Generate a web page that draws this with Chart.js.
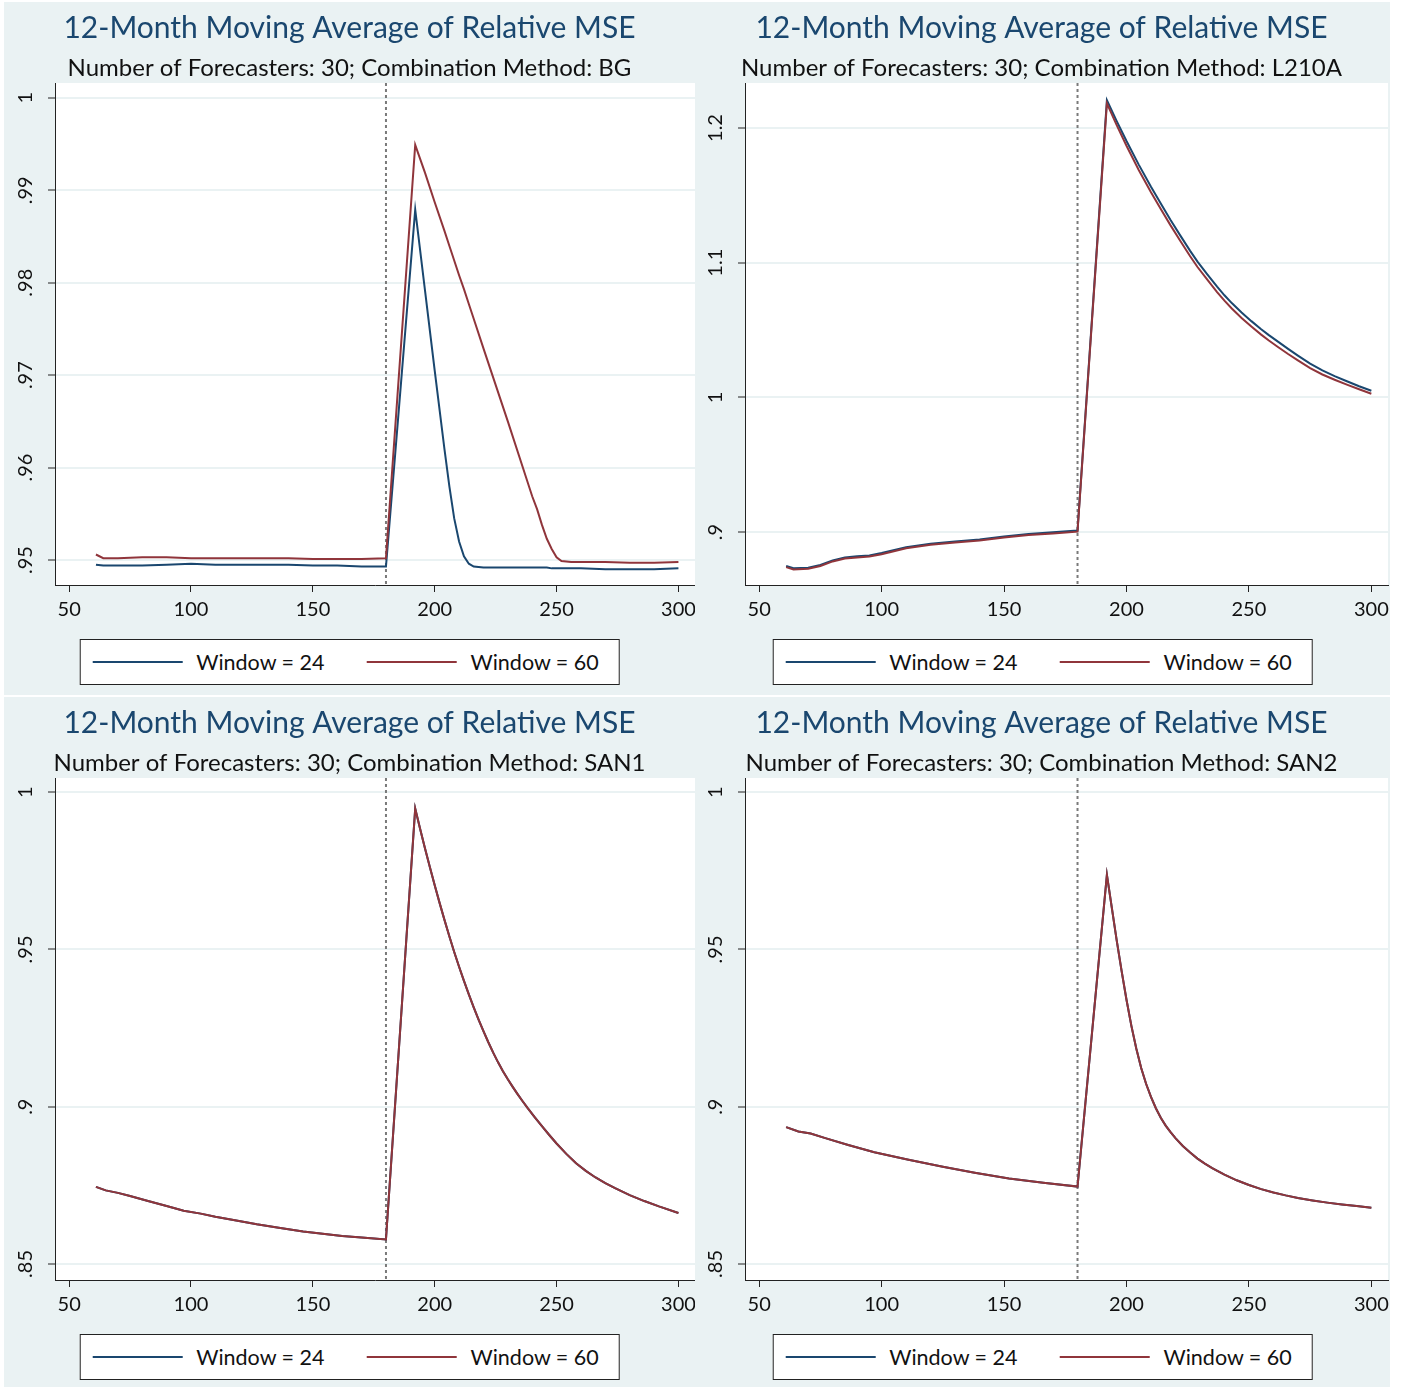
<!DOCTYPE html>
<html>
<head>
<meta charset="utf-8">
<script src="https://cdn.jsdelivr.net/npm/chart.js@4.4.0/dist/chart.umd.min.js"></script>
<style>
body { margin: 0; background: #fff; width: 1404px; height: 1387px; position: relative; font-family: Lato, sans-serif; overflow: hidden; }
.panel { position: absolute; background: #eaf2f3; }
.panel canvas { position: absolute; left: 0; top: 0; }
.legend { position: absolute; top: 637px; left: 50%; transform: translateX(-50%); height: 46px; box-sizing: border-box;
  background: #fff; border: 1px solid #222; display: flex; align-items: center; padding: 0 20px 0 12px;
  font-size: 21.5px; color: #111; white-space: nowrap; }
.legend .item { display: flex; align-items: center; }
.legend .item + .item { margin-left: 42px; }
.legend .swatch { width: 90px; height: 2px; margin-right: 14px; }
</style>
</head>
<body>
<div class="panel" id="p1" style="left:4px;top:2px;width:691px;height:693px;"><canvas id="c1" width="691" height="625"></canvas></div>
<div class="panel" id="p2" style="left:695px;top:2px;width:695px;height:693px;"><canvas id="c2" width="695" height="625"></canvas></div>
<div class="panel" id="p3" style="left:4px;top:697px;width:691px;height:690px;"><canvas id="c3" width="691" height="625"></canvas></div>
<div class="panel" id="p4" style="left:695px;top:697px;width:695px;height:690px;"><canvas id="c4" width="695" height="625"></canvas></div>
<script>
// break month (dotted line)
var breakPoint = 180;
var xTickValues = [50, 100, 150, 200, 250, 300];

// BG
var bgX = [61,64,70,80,90,100,110,120,130,140,150,160,170,180,192,196,200,204,206,208,210,212,214,216,220,230,240,242,244,246,248,250,252,256,260,270,280,290,300];
var bgW24 = [.9495,.9494,.9494,.9494,.9495,.9496,.9495,.9495,.9495,.9495,.9494,.9494,.9493,.9493,.9879,.9792,.9705,.9620,.9580,.9545,.9520,.9504,.9496,.9493,.9492,.9492,.9492,.9492,.9492,.9492,.9491,.9491,.9491,.9491,.9491,.9490,.9490,.9490,.9491];
var bgW60 = [.9506,.9502,.9502,.9503,.9503,.9502,.9502,.9502,.9502,.9502,.9501,.9501,.9501,.9502,.9949,.9919,.9887,.9856,.9840,.9824,.9808,.9793,.9777,.9761,.9729,.9650,.9569,.9555,.9538,.9523,.9512,.9503,.9499,.9498,.9498,.9498,.9497,.9497,.9498];

// L210A
var l210X = [61,64,70,75,80,85,90,95,100,110,120,130,140,150,160,170,180,
  192,196,200,205,210,214,218,222,226,229,233,237,240,243,247,251,255,258,262,266,270,275,280,285,290,295,300];
var l210W24 = [.8748,.8731,.8736,.8756,.8790,.8811,.8820,.8826,.8844,.8888,.8913,.8930,.8945,.8968,.8986,.8998,.9011,
  1.2207,1.2051,1.1903,1.1728,1.1563,1.1439,1.1317,1.1201,1.1088,1.1008,1.0914,1.0822,1.0758,1.0700,1.0630,1.0566,1.0506,1.0464,1.0412,1.0360,1.0310,1.0250,1.0200,1.0158,1.0120,1.0083,1.0049];
var l210W60 = [.8740,.8723,.8728,.8748,.8782,.8803,.8812,.8818,.8836,.8880,.8905,.8922,.8937,.8960,.8978,.8990,.9003,
  1.2183,1.2021,1.1868,1.1688,1.1523,1.1399,1.1277,1.1161,1.1048,1.0968,1.0874,1.0782,1.0718,1.0660,1.0590,1.0526,1.0466,1.0424,1.0372,1.0322,1.0275,1.0218,1.0170,1.0131,1.0095,1.0060,1.0027];

// SAN1
var san1X = [61,65,70,75,82,90,97,104,110,118,127,136,146,154,162,170,180,
  192,194,196,198,200,202,204,206,208,210,212,214,216,218,220,222,224,226,228,230,232,234,236,238,241,244,247,250,254,258,262,266,270,274,280,286,292,300];
var san1W24 = [.8745,.8734,.8726,.8716,.8701,.8684,.8669,.8660,.8650,.8639,.8626,.8615,.8603,.8596,.8589,.8584,.8578,
  .9948,.9884,.9822,.9762,.9704,.9648,.9594,.9542,.9492,.9445,.9400,.9357,.9316,.9277,.9240,.9205,.9172,.9141,.9113,.9087,.9063,.9040,.9018,.8997,.8967,.8938,.8910,.8883,.8850,.8820,.8796,.8775,.8757,.8741,.8719,.8700,.8683,.8662];
var san1W60 = [.8745,.8734,.8726,.8716,.8701,.8684,.8669,.8660,.8650,.8639,.8626,.8615,.8603,.8596,.8589,.8584,.8578,
  .9948,.9884,.9822,.9762,.9704,.9648,.9594,.9542,.9492,.9445,.9400,.9357,.9316,.9277,.9240,.9205,.9172,.9141,.9113,.9087,.9063,.9040,.9018,.8997,.8967,.8938,.8910,.8883,.8850,.8820,.8796,.8775,.8757,.8741,.8719,.8700,.8683,.8662];

// SAN2
var san2X = [61,66,71,77,86,97,111,125,138,152,166,180,
  192,194,196,198,200,202,204,206,208,210,212,214,216,218,220,223,226,229,232,235,240,245,250,255,260,265,270,276,282,288,294,300];
var san2W24 = [.8935,.8921,.8915,.8900,.8879,.8855,.8831,.8809,.8790,.8772,.8758,.8746,
  .9737,.9633,.9529,.9432,.9340,.9257,.9185,.9123,.9073,.9031,.8995,.8965,.8940,.8919,.8900,.8875,.8854,.8835,.8819,.8805,.8784,.8766,.8751,.8738,.8727,.8718,.8710,.8702,.8695,.8689,.8684,.8679];
var san2W60 = [.8935,.8921,.8915,.8900,.8879,.8855,.8831,.8809,.8790,.8772,.8758,.8746,
  .9737,.9633,.9529,.9432,.9340,.9257,.9185,.9123,.9073,.9031,.8995,.8965,.8940,.8919,.8900,.8875,.8854,.8835,.8819,.8805,.8784,.8766,.8751,.8738,.8727,.8718,.8710,.8702,.8695,.8689,.8684,.8679];

var seriesNames = ['Window = 24', 'Window = 60'];
var seriesColors = ['#1a476f', '#90353b'];

var panels = [
  { id: 'c1', method: 'BG',    x: bgX,   w24: bgW24,   w60: bgW60,   yMin: .9473, yMax: 1.0016, yStep: .01, yWidth: 51, padRight: 0 },
  { id: 'c2', method: 'L210A', x: l210X, w24: l210W24, w60: l210W60, yMin: .8607, yMax: 1.2334, yStep: .1,  yWidth: 50, padRight: 2 },
  { id: 'c3', method: 'SAN1',  x: san1X, w24: san1W24, w60: san1W60, yMin: .8449, yMax: 1.0045, yStep: .05, yWidth: 51, padRight: 0 },
  { id: 'c4', method: 'SAN2',  x: san2X, w24: san2W24, w60: san2W60, yMin: .8449, yMax: 1.0045, yStep: .05, yWidth: 50, padRight: 2 }
];

function pts(xs, ys) {
  return xs.map(function (x, i) { return { x: x, y: ys[i] }; });
}

function fmt(v) {
  var s = String(Math.round(v * 100) / 100);
  return s.replace(/^0\./, '.');
}

var plotBg = {
  id: 'plotBg',
  beforeDraw: function (chart) {
    var a = chart.chartArea, ctx = chart.ctx;
    ctx.save();
    ctx.fillStyle = '#fff';
    ctx.fillRect(a.left, a.top, a.right - a.left, a.bottom - a.top);
    ctx.restore();
  }
};

var breakLine = {
  id: 'breakLine',
  beforeDatasetsDraw: function (chart) {
    var a = chart.chartArea, ctx = chart.ctx;
    var px = chart.scales.x.getPixelForValue(breakPoint);
    ctx.save();
    ctx.strokeStyle = '#7a7a7a';
    ctx.lineWidth = 2;
    ctx.setLineDash([3, 3]);
    ctx.beginPath();
    ctx.moveTo(px, a.top);
    ctx.lineTo(px, a.bottom);
    ctx.stroke();
    ctx.restore();
  }
};

panels.forEach(function (p) {
  var canvas = document.getElementById(p.id);
  var chart = new Chart(canvas.getContext('2d'), {
    type: 'line',
    data: {
      datasets: [{
        label: seriesNames[0],
        data: pts(p.x, p.w24),
        borderColor: seriesColors[0],
        backgroundColor: seriesColors[0],
        borderWidth: 2,
        pointRadius: 0,
        tension: 0,
        order: 2
      }, {
        label: seriesNames[1],
        data: pts(p.x, p.w60),
        borderColor: seriesColors[1],
        backgroundColor: seriesColors[1],
        borderWidth: 2,
        pointRadius: 0,
        tension: 0,
        order: 1
      }]
    },
    options: {
      responsive: false,
      animation: false,
      devicePixelRatio: 1,
      layout: { padding: { left: 0, right: p.padRight, top: 0, bottom: 0 } },
      plugins: {
        legend: { display: false },
        tooltip: { enabled: false },
        title: {
          display: true,
          text: '12-Month Moving Average of Relative MSE',
          color: '#1a476f',
          font: { family: 'Lato', size: 30, weight: 'normal', lineHeight: 1.2 },
          padding: { top: 8, bottom: 0 }
        },
        subtitle: {
          display: true,
          text: 'Number of Forecasters: 30; Combination Method: ' + p.method,
          color: '#111',
          font: { family: 'Lato', size: 24, weight: 'normal', lineHeight: 1.2 },
          padding: { top: 7.6, bottom: 0.6 }
        }
      },
      scales: {
        x: {
          type: 'linear',
          min: 44.2,
          max: 306.8,
          afterFit: function (s) { s.height = 42; s.paddingLeft = 0; s.paddingRight = 0; },
          afterBuildTicks: function (s) { s.ticks = xTickValues.map(function (v) { return { value: v }; }); },
          ticks: { color: '#111', font: { family: 'Lato', size: 20 }, padding: 6, maxRotation: 0, autoSkip: false },
          grid: { drawOnChartArea: false, drawTicks: true, tickLength: 7, tickColor: '#222', tickWidth: 1 },
          border: { display: true, color: '#222', width: 1 }
        },
        y: {
          type: 'linear',
          min: p.yMin,
          max: p.yMax,
          afterFit: function (s) { s.width = p.yWidth; s.paddingTop = 0; s.paddingBottom = 0; },
          ticks: {
            stepSize: p.yStep,
            includeBounds: false,
            minRotation: 90,
            maxRotation: 90,
            crossAlign: 'center',
            padding: 8,
            color: '#111',
            font: { family: 'Lato', size: 20 },
            callback: function (v) { return fmt(v); }
          },
          grid: { color: '#eaf2f3', lineWidth: 2, drawTicks: true, tickLength: 7, tickColor: '#222', tickWidth: 1 },
          border: { display: true, color: '#222', width: 1 }
        }
      }
    },
    plugins: [plotBg, breakLine]
  });

  // legend box below the chart, built from the datasets
  var leg = document.createElement('div');
  leg.className = 'legend';
  chart.data.datasets.forEach(function (ds) {
    var item = document.createElement('div');
    item.className = 'item';
    var sw = document.createElement('span');
    sw.className = 'swatch';
    sw.style.background = ds.borderColor;
    var tx = document.createElement('span');
    tx.textContent = ds.label;
    item.appendChild(sw);
    item.appendChild(tx);
    leg.appendChild(item);
  });
  canvas.parentNode.appendChild(leg);
});
</script>
</body>
</html>
